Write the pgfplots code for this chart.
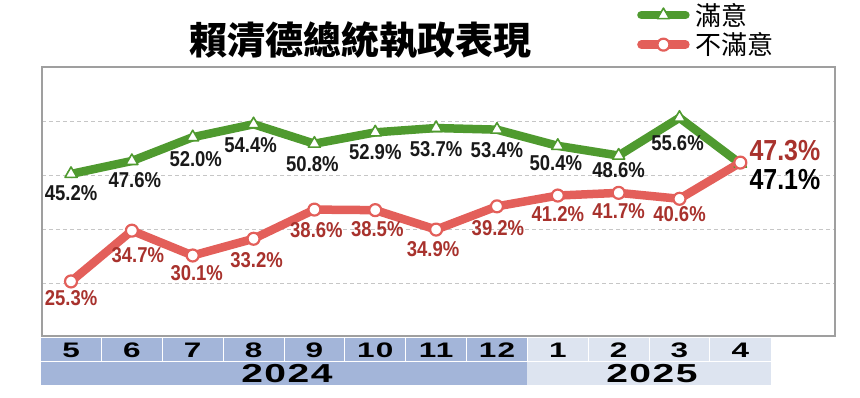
\documentclass[border=0pt]{standalone}
\usepackage{pgfplots}
\pgfplotsset{compat=1.18}
\usepackage{pgfplotstable}
\usepackage{fontspec}
\setmainfont{Liberation Sans}
\newfontfamily\cjk{Noto Sans CJK TC}
\newfontfamily\labf[FakeStretch=0.86]{Liberation Sans Bold}
\newfontfamily\wide[FakeStretch=1.5,LetterSpace=6]{Liberation Sans Bold}

\definecolor{gline}{HTML}{4F9A2F}
\definecolor{rline}{HTML}{E35F5A}
\definecolor{rtext}{HTML}{A8322D}
\definecolor{tabA}{HTML}{A3B5D9}
\definecolor{tabB}{HTML}{DDE4F0}

\pgfplotstableread{
x y dx dy
0 45.2 0 -19
1 47.6 3 -19
2 52.0 3 -22
3 54.4 -3 -21
4 50.8 -2 -20
5 52.9 0 -20
6 53.7 0 -21
7 53.4 0 -20
8 50.4 -2 -17
9 48.6 0 -15
10 55.6 -2 -25
11 47.1 9 -16
}\sat

\pgfplotstableread{
x y dx dy
0 25.3 0 -17
1 34.7 6 -24
2 30.1 4 -18
3 33.2 3 -21
4 38.6 2 -21
5 38.5 2 -19
6 34.9 -3 -20
7 39.2 1 -22
8 41.2 0 -19
9 41.7 0 -18
10 40.6 0 -15
11 47.3 9 12
}\dis

\begin{document}
\begin{tikzpicture}[x=1pt,y=1pt]
\useasboundingbox (0,0) rectangle (860,398);
% category table
\fill[tabA] (40.6,13) rectangle (527.4,60);
\fill[tabB] (527.4,13) rectangle (770.8,60);
\draw[white, line width=1.2pt] (40.6,36.5) -- (770.8,36.5);
\foreach \i in {1,...,11}{
  \pgfmathsetmacro{\xx}{40.6+60.85*\i}
  \draw[white, line width=1pt] (\xx,36.5) -- (\xx,60);
}
\node[font=\wide\fontsize{26}{26}\selectfont] at (287,24.5) {2024};
\node[font=\wide\fontsize{26}{26}\selectfont] at (652,24.5) {2025};
% title
\node[font=\cjk\bfseries\fontsize{38}{40}\selectfont] at (360,358) {賴清德總統執政表現};

\begin{axis}[
  at={(42pt,62pt)}, anchor=south west,
  scale only axis, width=793pt, height=269pt,
  xmin=-0.477, xmax=12.556, ymin=15.2, ymax=65,
  clip=false,
  xtick={0,...,11},
  xticklabels={5,6,7,8,9,10,11,12,1,2,3,4},
  xticklabel style={font=\wide\fontsize{21}{21}\selectfont, anchor=center, yshift=-14pt},
  ytick={25,35,45,55}, yticklabels={},
  ymajorgrids,
  grid style={dash pattern=on 4pt off 3pt, gray!45, line width=0.8pt},
  tick style={draw=none},
  axis line style={gray!75, line width=1.5pt},
  legend image code/.code={\draw[mark repeat=2,mark phase=2,#1,line cap=round] plot coordinates {(0pt,0pt) (22pt,0pt) (44pt,0pt)};},
  legend style={at={(0.7503,1.245)}, anchor=north west, draw=none, fill=none, inner sep=0pt,
    font=\cjk\fontsize{26}{27}\selectfont, row sep=2pt,
    /tikz/every odd column/.append style={column sep=4pt}},
  legend cell align=left,
]
\addplot[gline, line width=8.5pt, line join=round, line cap=round,
  mark=triangle*, mark size=7pt,
  mark options={fill=white, draw=gline, line width=1.6pt, solid}]
  table[x=x, y=y] {\sat};
\addlegendentry{滿意}
\addplot[rline, line width=8.5pt, line join=round, line cap=round,
  mark=*, mark size=6pt,
  mark options={fill=white, draw=rline, line width=2.2pt, solid}]
  table[x=x, y=y] {\dis};
\addlegendentry{不滿意}

% labels
\addplot[draw=none, mark=none, forget plot, skip coords between index={11}{12},
  point meta=explicit,
  visualization depends on={\thisrow{dx} \as \dx},
  visualization depends on={\thisrow{dy} \as \dy},
  nodes near coords={\pgfmathprintnumber[fixed,fixed zerofill,precision=1,assume math mode=true]{\pgfplotspointmeta}\%},
  every node near coord/.append style={anchor=center, xshift=\dx pt, yshift=\dy pt, inner sep=0pt,
    font=\labf\fontsize{21.5}{21.5}\selectfont, text=black!90}]
  table[x=x, y=y, meta=y] {\sat};
\addplot[draw=none, mark=none, forget plot, skip coords between index={11}{12},
  point meta=explicit,
  visualization depends on={\thisrow{dx} \as \dx},
  visualization depends on={\thisrow{dy} \as \dy},
  nodes near coords={\pgfmathprintnumber[fixed,fixed zerofill,precision=1,assume math mode=true]{\pgfplotspointmeta}\%},
  every node near coord/.append style={anchor=center, xshift=\dx pt, yshift=\dy pt, inner sep=0pt,
    font=\labf\fontsize{21.5}{21.5}\selectfont, text=rtext}]
  table[x=x, y=y, meta=y] {\dis};
% last-month labels
\addplot[draw=none, mark=none, forget plot, skip coords between index={0}{11},
  point meta=explicit,
  visualization depends on={\thisrow{dx} \as \dx},
  visualization depends on={\thisrow{dy} \as \dy},
  nodes near coords={\pgfmathprintnumber[fixed,fixed zerofill,precision=1,assume math mode=true]{\pgfplotspointmeta}\%},
  every node near coord/.append style={anchor=west, xshift=\dx pt, yshift=\dy pt, inner sep=0pt,
    font=\labf\fontsize{29}{29}\selectfont, text=black}]
  table[x=x, y=y, meta=y] {\sat};
\addplot[draw=none, mark=none, forget plot, skip coords between index={0}{11},
  point meta=explicit,
  visualization depends on={\thisrow{dx} \as \dx},
  visualization depends on={\thisrow{dy} \as \dy},
  nodes near coords={\pgfmathprintnumber[fixed,fixed zerofill,precision=1,assume math mode=true]{\pgfplotspointmeta}\%},
  every node near coord/.append style={anchor=west, xshift=\dx pt, yshift=\dy pt, inner sep=0pt,
    font=\labf\fontsize{29}{29}\selectfont, text=rtext}]
  table[x=x, y=y, meta=y] {\dis};
\end{axis}
\end{tikzpicture}
\end{document}
